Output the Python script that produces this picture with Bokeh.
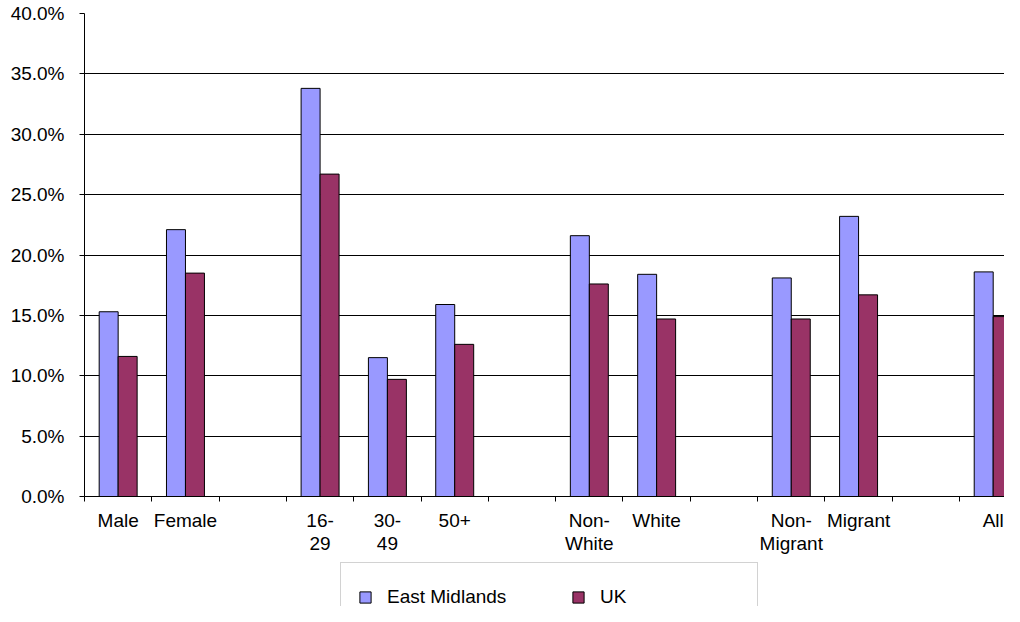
from bokeh.plotting import figure
from bokeh.layouts import column
from bokeh.models import (ColumnDataSource, Range1d, FixedTicker, PrintfTickFormatter,
                          Legend, LegendItem)
from bokeh.embed import file_html
from bokeh.resources import INLINE

# ---- data ----
categories = ["Male", "Female", "", "16-\n29", "30-\n49", "50+", "",
              "Non-\nWhite", "White", "", "Non-\nMigrant", "Migrant", "", "All"]
east_midlands = [15.3, 22.1, None, 33.8, 11.5, 15.9, None,
                 21.6, 18.4, None, 18.1, 23.2, None, 18.6]
uk = [11.6, 18.5, None, 26.7, 9.7, 12.6, None,
      17.6, 14.7, None, 14.7, 16.7, None, 14.9]
series_names = ["East Midlands", "UK"]
y_ticks = [0, 5, 10, 15, 20, 25, 30, 35, 40]

# ---- style ----
FONT = "Liberation Sans"
FS = "19px"
EM_COLOR = "#9999FF"
UK_COLOR = "#993366"
BAR_W = 0.282
W = 1004

n = len(categories)
centers = [i + 0.5 for i in range(n)]


def series_source(values, offset):
    xs, tops = [], []
    for c, v in zip(centers, values):
        if v is not None:
            xs.append(c + offset)
            tops.append(v)
    return ColumnDataSource(dict(x=xs, top=tops))


em_src = series_source(east_midlands, -BAR_W / 2)
uk_src = series_source(uk, BAR_W / 2)

p = figure(width=W, height=560, output_backend="svg", toolbar_location=None,
           x_range=Range1d(0, 13.668), y_range=Range1d(0, 40),
           min_border_left=84, min_border_right=0, min_border_top=13,
           min_border_bottom=64)
p.outline_line_color = None
p.background_fill_color = "white"
p.border_fill_color = "white"

p.vbar(x="x", top="top", bottom=0, width=BAR_W, source=em_src,
       fill_color=EM_COLOR, line_color="#000000", line_width=1)
p.vbar(x="x", top="top", bottom=0, width=BAR_W, source=uk_src,
       fill_color=UK_COLOR, line_color="#000000", line_width=1)

# x axis
p.xaxis.ticker = FixedTicker(ticks=centers, minor_ticks=list(range(n + 1)))
p.xaxis.major_label_overrides = {c: lab for c, lab in zip(centers, categories)}
p.xaxis.major_tick_out = 0
p.xaxis.major_tick_in = 0
p.xaxis.minor_tick_out = 5
p.xaxis.minor_tick_in = 0
p.xaxis.minor_tick_line_color = "black"
p.xaxis.axis_line_color = "black"
p.xaxis.major_label_standoff = 8
p.xaxis.major_label_text_font = FONT
p.xaxis.major_label_text_font_size = FS
p.xaxis.major_label_text_line_height = 1.1
p.xaxis.major_label_text_color = "black"

# y axis
p.yaxis.ticker = FixedTicker(ticks=y_ticks, minor_ticks=[])
p.yaxis.formatter = PrintfTickFormatter(format="%.1f%%")
p.yaxis.major_tick_out = 5
p.yaxis.major_tick_in = 0
p.yaxis.major_tick_line_color = "black"
p.yaxis.axis_line_color = "black"
p.yaxis.major_label_standoff = 15
p.yaxis.major_label_text_font = FONT
p.yaxis.major_label_text_font_size = FS
p.yaxis.major_label_text_color = "black"

# grid
p.xgrid.visible = False
p.ygrid.ticker = FixedTicker(ticks=y_ticks)
p.ygrid.grid_line_color = "black"
p.ygrid.grid_line_width = 1

# ---- legend strip below the chart (same series, kept out of view) ----
lg = figure(width=W, height=46, output_backend="svg", toolbar_location=None,
            x_range=Range1d(0, 13.668), y_range=Range1d(100, 101),
            min_border_left=84, min_border_right=0, min_border_top=0, min_border_bottom=0)
lg.axis.visible = False
lg.grid.visible = False
lg.outline_line_color = None
lg.background_fill_color = "white"
lg.border_fill_color = "white"
em_key = lg.vbar(x="x", top="top", bottom=0, width=BAR_W, source=em_src,
                 fill_color=EM_COLOR, line_color="#000000", line_width=1)
uk_key = lg.vbar(x="x", top="top", bottom=0, width=BAR_W, source=uk_src,
                 fill_color=UK_COLOR, line_color="#000000", line_width=1)

legend = Legend(items=[LegendItem(label=series_names[0], renderers=[em_key], index=0),
                       LegendItem(label=series_names[1], renderers=[uk_key], index=0)],
                orientation="horizontal", location=(256, -26), margin=0,
                glyph_width=14, glyph_height=14, label_standoff=15, spacing=44,
                label_width=140, label_height=34, padding=17,
                border_line_color="#a6a6a6", border_line_width=1,
                background_fill_color="white", background_fill_alpha=1,
                label_text_font=FONT, label_text_font_size=FS, label_text_color="black")
lg.add_layout(legend, "center")

layout = column(p, lg, spacing=0)

with open("out.html", "w") as f:
    f.write(file_html(layout, INLINE))
